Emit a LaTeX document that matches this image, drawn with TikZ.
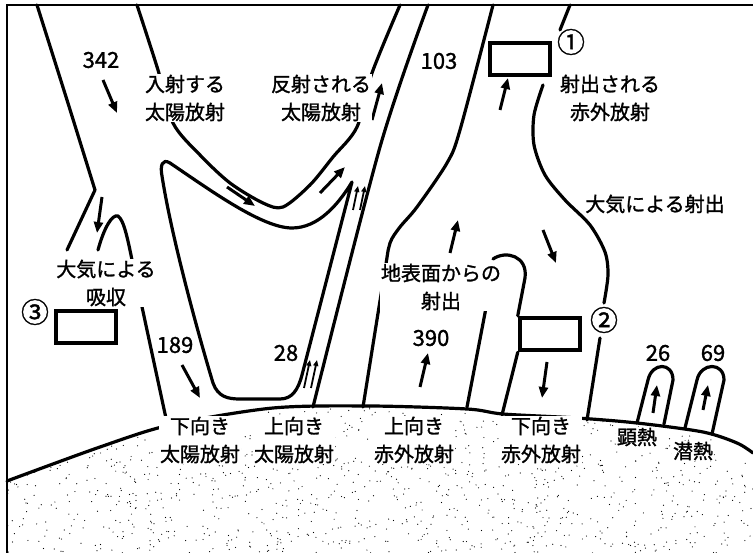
\documentclass[tikz,border=0pt]{standalone}
\usepackage{fontspec}
\usetikzlibrary{arrows.meta}
\newfontfamily\jpfont[FakeBold=1.3]{Noto Sans CJK JP}
\begin{document}
\begin{tikzpicture}[x=1pt,y=-1pt,
        flow/.style={line width=3.2pt, line cap=round, line join=round},
        arr/.style={line width=3pt, -{Triangle[length=11pt,width=9pt]}},
        tinyarr/.style={line width=1.8pt, -{Triangle[length=6pt,width=5pt]}},
        lab/.style={font=\jpfont\fontsize{20}{28}\selectfont, align=center, inner sep=1pt, fill=white},
        num/.style={font=\jpfont\fontsize{22}{22}\selectfont, inner sep=1pt},
        circ/.style={font=\jpfont\fontsize{28}{28}\selectfont, inner sep=0pt},
        blank/.style={draw, line width=4.5pt, minimum width=60pt, minimum height=32pt, inner sep=0pt}
    ]
    \useasboundingbox (0,0) rectangle (753,553);
    % ground with stipple
    \begin{scope}
        \clip plot[smooth] coordinates {(7,481) (100,447) (170,425) (273,408) (370,406) (467,409) (503,414) (577,418) (637,423) (703,432) (737,443) (753,453)} -- (753,553) -- (7,553) -- cycle;
        \pgfmathsetseed{7}
        \foreach \k in {1,...,1300}
            \fill ({7+746*rnd},{400+153*rnd}) circle[radius=0.6pt];
    \end{scope}
    \draw[flow] plot[smooth] coordinates {(7,481) (100,447) (170,425) (273,408) (370,406) (467,409) (503,414) (577,418) (637,423) (703,432) (737,443) (753,453)};
    % frame
    \draw[line width=1.6pt] (7,553) -- (7,5) -- (753,5);
    % incoming solar band
    \draw[flow] plot[smooth] coordinates {(37,5) (67,100) (95,190)} -- (67,250);
    \draw[flow] (98,250) .. controls (104,228) and (112,214) .. (118,216)
        .. controls (124,220) and (128,240) .. (133,265) -- (167,423);
    \draw[flow] (352,182) .. controls (338,205) and (318,228) .. (292,228)
        .. controls (262,228) and (210,190) .. (170,163)
        .. controls (162,158) and (160,166) .. (162,176)
        .. controls (172,240) and (200,340) .. (213,383)
        .. controls (218,397) and (228,399) .. (240,399) -- (280,399)
        .. controls (292,399) and (298,390) .. (302,375) -- cycle;
    % reflected solar band
    \draw[flow] plot[smooth] coordinates {(137,5) (158,70) (173,123) (200,155) (230,183) (263,203) (283,207) (310,185) (333,157) (357,127) (372,73) (400,5)};
    \draw[flow] plot[smooth] coordinates {(428,5) (380,147) (313,407)};
    % infrared
    \draw[flow] plot[smooth] coordinates {(493,5) (460,130) (447,163) (417,207) (400,227) (390,243) (385,270) (363,407)};
    \draw[flow] (490,287) -- (467,407);
    \node[blank] (box1) at (520,59) {};
    \node[blank] (box2) at (550,334) {};
    \node[blank] (box3) at (86,327) {};
    \draw[flow] (493,259) .. controls (506,250) and (528,256) .. (525,278) -- (box2.north west);
    \draw[flow] (box2.south west) -- (502,415);
    \draw[flow] (570,5) -- (560,30);
    \draw[flow] plot[smooth] coordinates {(543,85) (534,115) (534,145) (545,175) (565,200) (590,225) (605,252) (608,275) (604,303)};
    \draw[flow] (600,338) -- (587,420);
    % sensible and latent heat
    \draw[flow] (637,423) -- (648,380) .. controls (652,362) and (673,362) .. (673,380) -- (664,424);
    \draw[flow] (685,428) -- (697,380) .. controls (701,362) and (724,362) .. (724,380) -- (712,434);
    % arrows
    \draw[arr] (103,80) -- (117,113);
    \draw[arr] (102,197) -- (97,233);
    \draw[arr] (227,187) -- (255,206);
    \draw[arr] (320,193) -- (345,167);
    \draw[arr] (372,120) -- (382,83);
    \draw[arr] (500,110) -- (508,78);
    \draw[arr] (450,253) -- (458,220);
    \draw[arr] (543,230) -- (556,263);
    \draw[arr] (420,387) -- (428,353);
    \draw[arr] (547,362) -- (542,398);
    \draw[arr] (182,365) -- (200,398);
    \draw[arr] (653,413) -- (657,385);
    \draw[arr] (703,410) -- (708,385);
    \draw[tinyarr] (353,210) -- (358,186);
    \draw[tinyarr] (360,210) -- (365,186);
    \draw[tinyarr] (304,388) -- (310,360);
    \draw[tinyarr] (311,388) -- (317,360);
    % labels
    \node[lab] (inSol) at (185,98) {入射する\\太陽放射};
    \node[lab] (refSol) at (321,98) {反射される\\太陽放射};
    \node[lab] (outIR) at (610,98) {射出される\\赤外放射};
    \node[lab] (atmEm) at (655,204) {大気による射出};
    \node[lab] (surfEm) at (441,287) {地表面からの\\射出};
    \node[lab] (absorb) at (106,283) {大気による\\吸収};
    \node[lab] (dnSol) at (200,440) {下向き\\太陽放射};
    \node[lab] (upSol) at (294,440) {上向き\\太陽放射};
    \node[lab] (upIR) at (414,440) {上向き\\赤外放射};
    \node[lab] (dnIR) at (541,440) {下向き\\赤外放射};
    \node[lab] (sens) at (637,437) {顕熱};
    \node[lab] (lat) at (693,451) {潜熱};
    \node[num] (n342) at (101,60) {342};
    \node[num] (n103) at (439,61) {103};
    \node[num] (n189) at (175,345) {189};
    \node[num] (n28) at (286,353) {28};
    \node[num] (n390) at (431,338) {390};
    \node[num] (n26) at (658,353) {26};
    \node[num] (n69) at (713,353) {69};
    \node[circ] (c1) at (571,42) {①};
    \node[circ] (c2) at (604,320) {②};
    \node[circ] (c3) at (35,312) {③};
\end{tikzpicture}
\end{document}
